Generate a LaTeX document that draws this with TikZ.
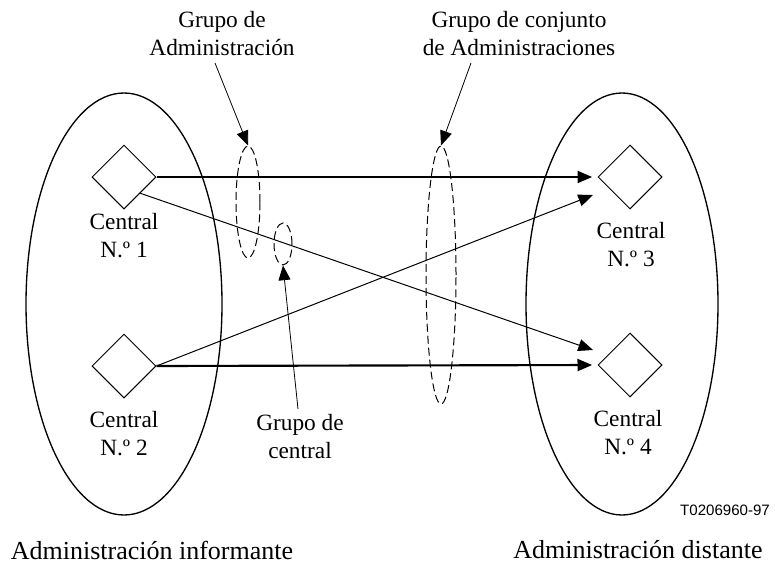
\documentclass[tikz,border=0pt]{standalone}
\usepackage{fontspec}
\setmainfont{Liberation Serif}
\newfontfamily\codefont{Liberation Sans}
\usetikzlibrary{shapes.geometric,arrows.meta}
\begin{document}
\begin{tikzpicture}[x=0.75pt,y=-0.75pt,
  lbl/.style={font=\fontsize{17.5}{21}\selectfont, align=center, inner sep=0pt},
  biglbl/.style={font=\fontsize{19.5}{23}\selectfont, align=center, inner sep=0pt},
  codelbl/.style={font=\codefont\fontsize{11.3}{13}\selectfont, inner sep=0pt},
  sw/.style={diamond, draw, line width=0.75pt, minimum width=48pt, minimum height=48pt, inner sep=0pt, aspect=1},
  region/.style={ellipse, draw, line width=1pt, inner sep=0pt},
  grp/.style={ellipse, draw, dash pattern=on 6pt off 3pt, line width=0.75pt, inner sep=0pt},
  tip/.style={-{Triangle[length=11pt,width=9pt]}},
  thicklink/.style={tip, line width=1.6pt, shorten >=4pt},
  thinlink/.style={tip, line width=0.75pt},
  pointer/.style={tip, line width=0.6pt}
]
\useasboundingbox (0,0) rectangle (775,564);

% administration regions
\node[region, minimum width=147pt, minimum height=316.5pt] (regL) at (124,304) {};
\node[region, minimum width=144pt, minimum height=316.5pt] (regR) at (622,304) {};

% exchanges
\node[sw] (c1) at (124,177) {};
\node[sw] (c2) at (124,366) {};
\node[sw] (c3) at (630,177) {};
\node[sw] (c4) at (630,365) {};

\node[lbl] (l1) at (124,236) {Central\\N.º 1};
\node[lbl] (l2) at (124,434) {Central\\N.º 2};
\node[lbl] (l3) at (631,245) {Central\\N.º 3};
\node[lbl] (l4) at (628,433) {Central\\N.º 4};

% links
\coordinate (t3) at (593,195);
\coordinate (t4) at (593,350);
\draw[thicklink] (c1.east) -- (c3.west);
\draw[thicklink] (c2.east) -- (c4.west);
\draw[thinlink] (c1.south east) -- (t4);
\draw[thinlink] (c2.east) -- (t3);

% groups
\node[grp, minimum width=18pt, minimum height=84pt] (gAdm) at (248,202) {};
\node[grp, minimum width=13.5pt, minimum height=31.5pt] (gCen) at (283,244) {};
\node[grp, minimum width=22.5pt, minimum height=193.5pt] (gConj) at (441,275) {};

% group labels
\node[lbl] (labA) at (222,34) {Grupo de\\Administración};
\node[lbl] (labB) at (519,34) {Grupo de conjunto\\de Administraciones};
\node[lbl] (labC) at (300,437) {Grupo de\\central};

\coordinate (pA) at (215,63);
\coordinate (pB) at (471,63);
\coordinate (pC) at (298,409);
\draw[pointer] (pA) -- (gAdm.north);
\draw[pointer] (pB) -- (gConj.north);
\draw[pointer] (pC) -- (gCen.south);

% bottom labels
\node[biglbl] (admL) at (152,550) {Administración informante};
\node[biglbl] (admR) at (638,550) {Administración distante};
\node[codelbl] (code) at (725,510) {T0206960-97};
\end{tikzpicture}
\end{document}
